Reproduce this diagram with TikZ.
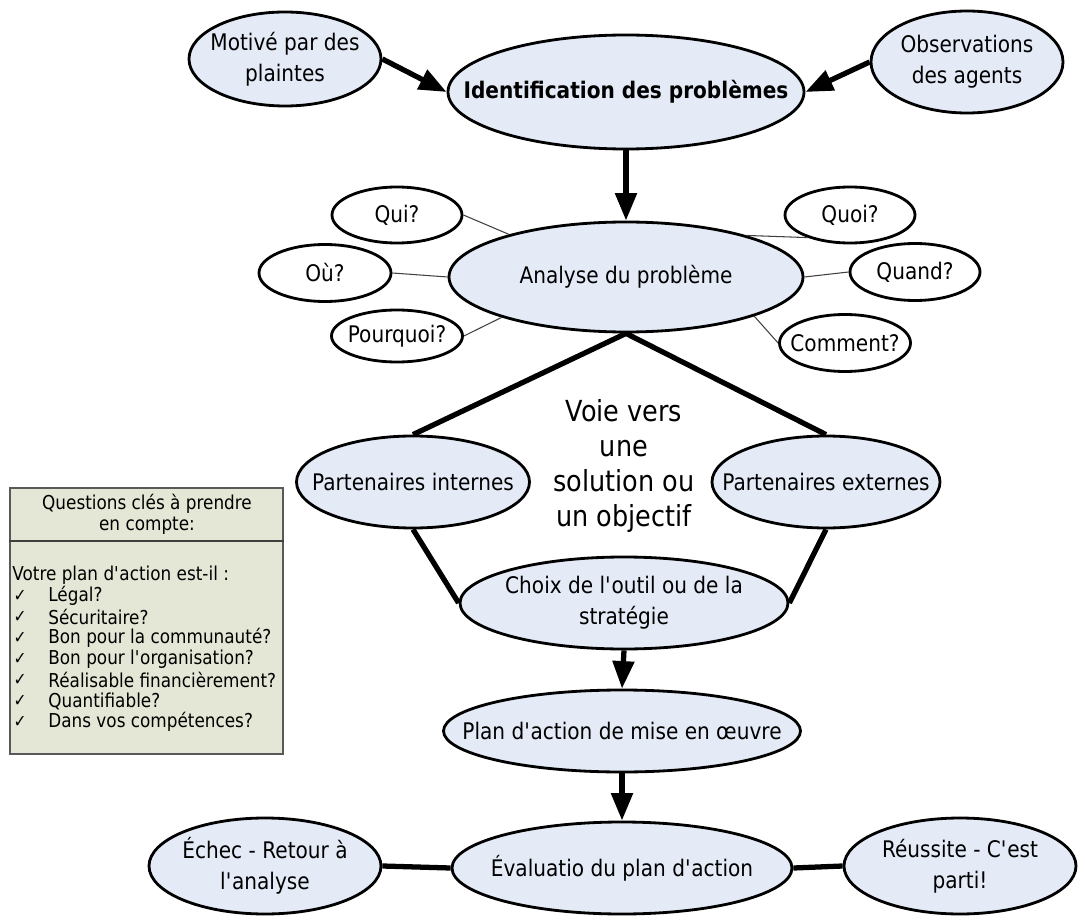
\documentclass[tikz,border=0pt]{standalone}
\usepackage{fontspec}
\setmainfont[FakeStretch=0.88]{DejaVu Sans}
\usetikzlibrary{shapes.geometric}
\usetikzlibrary{arrows.meta}
\definecolor{bleuclair}{RGB}{228,235,247}
\definecolor{kaki}{RGB}{229,231,214}
\newcommand{\apos}{\textquotesingle}

\begin{document}
\begin{tikzpicture}[x=0.02cm, y=-0.02cm,
    bulle/.style 2 args={ellipse, draw, line width=1.6pt, fill=bleuclair,
      minimum width=#1*0.02cm, minimum height=#2*0.02cm, inner sep=0pt},
    question/.style 2 args={bulle={#1}{#2}, fill=white},
    every label/.style={font=\fontsize{13}{17.5}\selectfont, align=center},
    fleche/.style={line width=3pt, -{Triangle[length=0.55cm, width=0.42cm]}},
    trait/.style={line width=3pt},
    fin/.style={line width=0.6pt, draw=black!75},
    boitetexte/.style={font=\fontsize{10.9}{12}\selectfont, inner sep=0pt}]
    \useasboundingbox (0,0) rectangle (1085,922);
    % haut
    \node[bulle={356}{114}, label={[font=\fontsize{13}{16}\selectfont\bfseries]center:Identification des problèmes}] (ident) at (626,92) {};
    \node[bulle={192}{94}, label={center:Motivé par des\\plaintes}] (motive) at (285,59) {};
    \node[bulle={192}{102}, label={center:Observations\\des agents}] (observ) at (967,62) {};
    \draw[fleche] (motive.east) -- (ident.west);
    \draw[fleche] (observ.west) -- (ident.east);
    % analyse
    \node[bulle={354}{110}, label={center:Analyse du problème}] (analyse) at (626,277) {};
    \draw[fleche] (ident.south) -- (analyse.north);
    \node[question={130}{56}, label={center:Qui?}] (qui) at (397,215) {};
    \node[question={132}{57}, label={center:Où?}] (ou) at (325,273) {};
    \node[question={131}{52}, label={center:Pourquoi?}] (pourquoi) at (397,336) {};
    \node[question={130}{56}, label={center:Quoi?}] (quoi) at (850,215) {};
    \node[question={130}{57}, label={center:Quand?}] (quand) at (915,272) {};
    \node[question={131}{57}, label={center:Comment?}] (comment) at (845,343) {};
    \draw[fin] (qui.east) -- (analyse.160);
    \draw[fin] (ou.east) -- (analyse.west);
    \draw[fin] (pourquoi.east) -- (analyse.198);
    \draw[fin] (analyse.19) -- (quoi.208);
    \draw[fin] (analyse.east) -- (quand.west);
    \draw[fin] (analyse.343) -- (comment.west);
    % partenaires
    \node[bulle={233}{92}, label={center:Partenaires internes}] (pint) at (413,482) {};
    \node[bulle={228}{92}, label={center:Partenaires externes}] (pext) at (826,482) {};
    \node[font=\fontsize{16.5}{20}\selectfont, align=center] (voie) at (624,466) {Voie vers\\une\\solution ou\\un objectif};
    \node[bulle={328}{92}, label={center:Choix de l\apos outil ou de la\\stratégie}] (choix) at (624,603) {};
    \draw[trait] (analyse.south) -- (pint.north);
    \draw[trait] (analyse.south) -- (pext.north);
    \draw[trait] (pint.south) -- (choix.west);
    \draw[trait] (pext.south) -- (choix.east);
    % bas
    \node[bulle={357}{82}, label={center:Plan d\apos action de mise en œuvre}] (plan) at (622,731) {};
    \node[bulle={340}{92}, label={center:Évaluatio du plan d\apos action}] (eval) at (622,868) {};
    \node[bulle={232}{96}, label={center:Échec - Retour à\\l\apos analyse}] (echec) at (265,866) {};
    \node[bulle={232}{96}, label={center:Réussite - C\apos est\\parti!}] (reussite) at (960,866) {};
    \draw[fleche] (choix.south) -- (plan.north);
    \draw[fleche] (plan.south) -- (eval.north);
    \draw[trait] (echec.east) -- (eval.west);
    \draw[trait] (eval.east) -- (reussite.west);
    % questions cles
    \node[draw=black!65, line width=1pt, fill=kaki, minimum width=273*0.02cm, minimum height=266*0.02cm, inner sep=0pt] (boite) at (146.5,621) {};
    \node[boitetexte, align=center] (titre) at (147,514) {Questions clés à prendre\\en compte:};
    \coordinate (sep) at (0,541);
    \draw[line width=1.2pt, black!75] (boite.west |- sep) -- (boite.east |- sep);
    \node[boitetexte, anchor=west] (votre) at (12,575) {Votre plan d\apos action est-il :};
    \foreach \t [count=\i] in {Légal?, Sécuritaire?, Bon pour la communauté?, Bon pour l\apos organisation?, Réalisable financièrement?, Quantifiable?, Dans vos compétences?} {
      \node[boitetexte] (coche\i) at (20,575+21*\i) {\fontsize{10}{11}\selectfont ✓};
      \node[boitetexte, anchor=west] (item\i) at (48,575+21*\i) {\t};
    }
\end{tikzpicture}
\end{document}
